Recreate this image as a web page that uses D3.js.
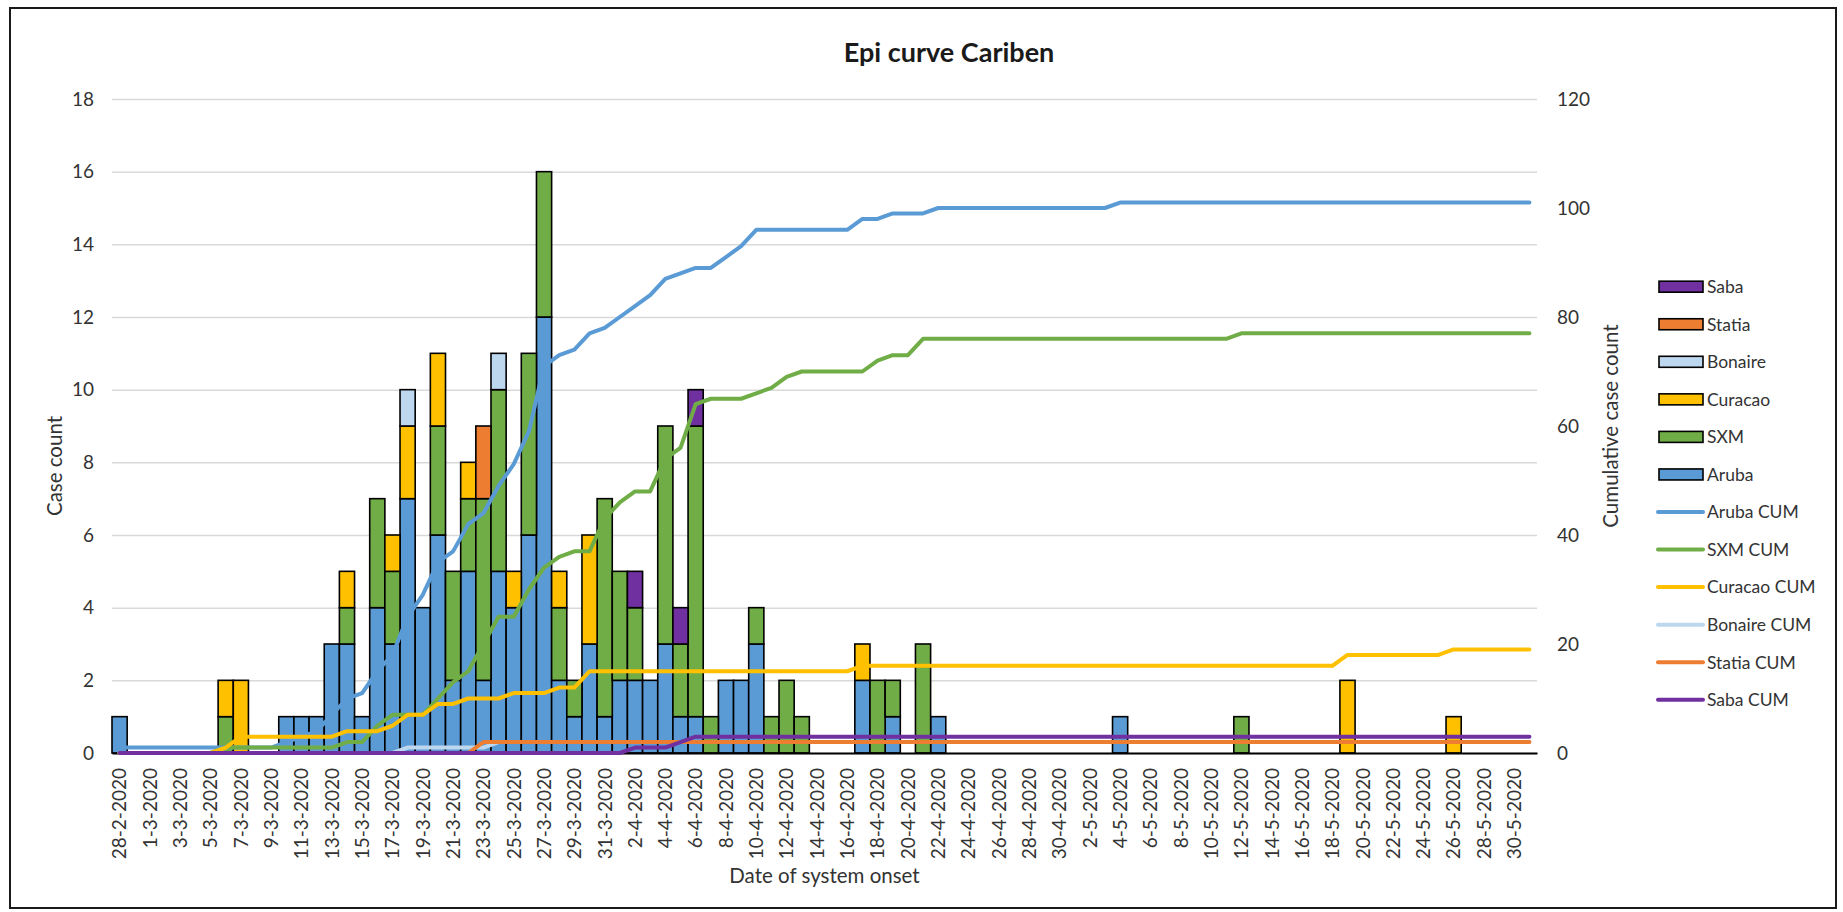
<!DOCTYPE html>
<html>
<head>
<meta charset="utf-8">
<script src="https://cdn.jsdelivr.net/npm/d3@7/dist/d3.min.js"></script>
<style>
  html, body { margin: 0; padding: 0; background: #fff; }
  svg { display: block; font-family: Lato, "Open Sans", sans-serif; }
</style>
</head>
<body>
<svg id="chart" width="1843" height="912"></svg>
<script>
// ---------------- DATA ----------------
const dates = [
  "28-2-2020","29-2-2020","1-3-2020","2-3-2020","3-3-2020","4-3-2020","5-3-2020","6-3-2020","7-3-2020","8-3-2020",
  "9-3-2020","10-3-2020","11-3-2020","12-3-2020","13-3-2020","14-3-2020","15-3-2020","16-3-2020","17-3-2020","18-3-2020",
  "19-3-2020","20-3-2020","21-3-2020","22-3-2020","23-3-2020","24-3-2020","25-3-2020","26-3-2020","27-3-2020","28-3-2020",
  "29-3-2020","30-3-2020","31-3-2020","1-4-2020","2-4-2020","3-4-2020","4-4-2020","5-4-2020","6-4-2020","7-4-2020",
  "8-4-2020","9-4-2020","10-4-2020","11-4-2020","12-4-2020","13-4-2020","14-4-2020","15-4-2020","16-4-2020","17-4-2020",
  "18-4-2020","19-4-2020","20-4-2020","21-4-2020","22-4-2020","23-4-2020","24-4-2020","25-4-2020","26-4-2020","27-4-2020",
  "28-4-2020","29-4-2020","30-4-2020","1-5-2020","2-5-2020","3-5-2020","4-5-2020","5-5-2020","6-5-2020","7-5-2020",
  "8-5-2020","9-5-2020","10-5-2020","11-5-2020","12-5-2020","13-5-2020","14-5-2020","15-5-2020","16-5-2020","17-5-2020",
  "18-5-2020","19-5-2020","20-5-2020","21-5-2020","22-5-2020","23-5-2020","24-5-2020","25-5-2020","26-5-2020","27-5-2020",
  "28-5-2020","29-5-2020","30-5-2020","31-5-2020"
];
const xTickLabels = dates.filter((d, i) => i % 2 === 0);

// daily case counts
const aruba = [
  1,0,0,0,0,0,0,0,0,0,
  0,1,1,1,3,3,1,4,3,7,
  4,6,2,5,2,5,4,6,12,2,
  1,3,1,2,2,2,3,1,1,0,
  2,2,3,0,0,0,0,0,0,2,
  0,1,0,0,1,0,0,0,0,0,
  0,0,0,0,0,0,1,0,0,0,
  0,0,0,0,0,0,0,0,0,0,
  0,0,0,0,0,0,0,0,0,0,
  0,0,0,0
];
const sxm = [
  0,0,0,0,0,0,0,1,0,0,
  0,0,0,0,0,1,0,3,2,0,
  0,3,3,2,5,5,0,5,4,2,
  1,0,6,3,2,0,6,2,8,1,
  0,0,1,1,2,1,0,0,0,0,
  2,1,0,3,0,0,0,0,0,0,
  0,0,0,0,0,0,0,0,0,0,
  0,0,0,0,1,0,0,0,0,0,
  0,0,0,0,0,0,0,0,0,0,
  0,0,0,0
];
const curacao = [
  0,0,0,0,0,0,0,1,2,0,
  0,0,0,0,0,1,0,0,1,2,
  0,2,0,1,0,0,1,0,0,1,
  0,3,0,0,0,0,0,0,0,0,
  0,0,0,0,0,0,0,0,0,1,
  0,0,0,0,0,0,0,0,0,0,
  0,0,0,0,0,0,0,0,0,0,
  0,0,0,0,0,0,0,0,0,0,
  0,2,0,0,0,0,0,0,1,0,
  0,0,0,0
];
const bonaire = [
  0,0,0,0,0,0,0,0,0,0,
  0,0,0,0,0,0,0,0,0,1,
  0,0,0,0,0,1,0,0,0,0,
  0,0,0,0,0,0,0,0,0,0,
  0,0,0,0,0,0,0,0,0,0,
  0,0,0,0,0,0,0,0,0,0,
  0,0,0,0,0,0,0,0,0,0,
  0,0,0,0,0,0,0,0,0,0,
  0,0,0,0,0,0,0,0,0,0,
  0,0,0,0
];
const statia = [
  0,0,0,0,0,0,0,0,0,0,
  0,0,0,0,0,0,0,0,0,0,
  0,0,0,0,2,0,0,0,0,0,
  0,0,0,0,0,0,0,0,0,0,
  0,0,0,0,0,0,0,0,0,0,
  0,0,0,0,0,0,0,0,0,0,
  0,0,0,0,0,0,0,0,0,0,
  0,0,0,0,0,0,0,0,0,0,
  0,0,0,0,0,0,0,0,0,0,
  0,0,0,0
];
const saba = [
  0,0,0,0,0,0,0,0,0,0,
  0,0,0,0,0,0,0,0,0,0,
  0,0,0,0,0,0,0,0,0,0,
  0,0,0,0,1,0,0,1,1,0,
  0,0,0,0,0,0,0,0,0,0,
  0,0,0,0,0,0,0,0,0,0,
  0,0,0,0,0,0,0,0,0,0,
  0,0,0,0,0,0,0,0,0,0,
  0,0,0,0,0,0,0,0,0,0,
  0,0,0,0
];

// cumulative counts
const arubaCum = [
  1,1,1,1,1,1,1,1,1,1,
  1,2,3,4,7,10,11,15,18,25,
  29,35,37,42,44,49,53,59,71,73,
  74,77,78,80,82,84,87,88,89,89,
  91,93,96,96,96,96,96,96,96,98,
  98,99,99,99,100,100,100,100,100,100,
  100,100,100,100,100,100,101,101,101,101,
  101,101,101,101,101,101,101,101,101,101,
  101,101,101,101,101,101,101,101,101,101,
  101,101,101,101
];
const sxmCum = [
  0,0,0,0,0,0,0,1,1,1,
  1,1,1,1,1,2,2,5,7,7,
  7,10,13,15,20,25,25,30,34,36,
  37,37,43,46,48,48,54,56,64,65,
  65,65,66,67,69,70,70,70,70,70,
  72,73,73,76,76,76,76,76,76,76,
  76,76,76,76,76,76,76,76,76,76,
  76,76,76,76,77,77,77,77,77,77,
  77,77,77,77,77,77,77,77,77,77,
  77,77,77,77
];
const curacaoCum = [
  0,0,0,0,0,0,0,1,3,3,
  3,3,3,3,3,4,4,4,5,7,
  7,9,9,10,10,10,11,11,11,12,
  12,15,15,15,15,15,15,15,15,15,
  15,15,15,15,15,15,15,15,15,16,
  16,16,16,16,16,16,16,16,16,16,
  16,16,16,16,16,16,16,16,16,16,
  16,16,16,16,16,16,16,16,16,16,
  16,18,18,18,18,18,18,18,19,19,
  19,19,19,19
];
const bonaireCum = [
  0,0,0,0,0,0,0,0,0,0,
  0,0,0,0,0,0,0,0,0,1,
  1,1,1,1,1,2,2,2,2,2,
  2,2,2,2,2,2,2,2,2,2,
  2,2,2,2,2,2,2,2,2,2,
  2,2,2,2,2,2,2,2,2,2,
  2,2,2,2,2,2,2,2,2,2,
  2,2,2,2,2,2,2,2,2,2,
  2,2,2,2,2,2,2,2,2,2,
  2,2,2,2
];
const statiaCum = [
  0,0,0,0,0,0,0,0,0,0,
  0,0,0,0,0,0,0,0,0,0,
  0,0,0,0,2,2,2,2,2,2,
  2,2,2,2,2,2,2,2,2,2,
  2,2,2,2,2,2,2,2,2,2,
  2,2,2,2,2,2,2,2,2,2,
  2,2,2,2,2,2,2,2,2,2,
  2,2,2,2,2,2,2,2,2,2,
  2,2,2,2,2,2,2,2,2,2,
  2,2,2,2
];
const sabaCum = [
  0,0,0,0,0,0,0,0,0,0,
  0,0,0,0,0,0,0,0,0,0,
  0,0,0,0,0,0,0,0,0,0,
  0,0,0,0,1,1,1,2,3,3,
  3,3,3,3,3,3,3,3,3,3,
  3,3,3,3,3,3,3,3,3,3,
  3,3,3,3,3,3,3,3,3,3,
  3,3,3,3,3,3,3,3,3,3,
  3,3,3,3,3,3,3,3,3,3,
  3,3,3,3
];

const leftTicks = [0, 2, 4, 6, 8, 10, 12, 14, 16, 18];
const rightTicks = [0, 20, 40, 60, 80, 100, 120];

const barSeries = [
  { key: "Aruba",   values: aruba,   color: "#5B9BD5" },
  { key: "SXM",     values: sxm,     color: "#70AD47" },
  { key: "Curacao", values: curacao, color: "#FFC000" },
  { key: "Bonaire", values: bonaire, color: "#BDD7EE" },
  { key: "Statia",  values: statia,  color: "#ED7D31" },
  { key: "Saba",    values: saba,    color: "#7030A0" }
];
const lineSeries = [
  { key: "Aruba CUM",   values: arubaCum,   color: "#5B9BD5" },
  { key: "SXM CUM",     values: sxmCum,     color: "#70AD47" },
  { key: "Curacao CUM", values: curacaoCum, color: "#FFC000" },
  { key: "Bonaire CUM", values: bonaireCum, color: "#BDD7EE" },
  { key: "Statia CUM",  values: statiaCum,  color: "#ED7D31" },
  { key: "Saba CUM",    values: sabaCum,    color: "#7030A0" }
];

// ---------------- LAYOUT ----------------
const svg = d3.select("#chart");
const W = 1843, H = 912;
const plot = { left: 112, right: 1537, top: 99, bottom: 753 };
const textColor = "#333333";
const fontSize = 19;
const legendSize = 17.5;
const axisTitleSize = 20.5;

svg.append("rect").attr("width", W).attr("height", H).attr("fill", "#fff");
svg.append("rect")
  .attr("x", 10).attr("y", 8).attr("width", 1826).attr("height", 900)
  .attr("fill", "none").attr("stroke", "#1a1a1a").attr("stroke-width", 2);

const x = d3.scaleBand().domain(dates).range([plot.left, plot.right]).padding(0);
const y = d3.scaleLinear().domain([0, 18]).range([plot.bottom, plot.top]);
const y2 = d3.scaleLinear().domain([0, 120]).range([plot.bottom, plot.top]);
const bw = x.bandwidth();

// gridlines
const grid = svg.append("g")
  .attr("transform", `translate(${plot.left},0)`)
  .call(d3.axisLeft(y).tickValues(leftTicks).tickSize(-(plot.right - plot.left)).tickFormat(""));
grid.select(".domain").remove();
grid.selectAll("line").attr("stroke", "#D9D9D9").attr("stroke-width", 1.5);

// left axis labels
const yAxis = svg.append("g")
  .attr("transform", `translate(${plot.left},0)`)
  .call(d3.axisLeft(y).tickValues(leftTicks).tickSize(0).tickPadding(18));
yAxis.select(".domain").remove();
yAxis.selectAll("text").attr("font-family", "Lato").attr("font-size", fontSize).attr("fill", textColor);

// right axis labels
const y2Axis = svg.append("g")
  .attr("transform", `translate(${plot.right},0)`)
  .call(d3.axisRight(y2).tickValues(rightTicks).tickSize(0).tickPadding(20));
y2Axis.select(".domain").remove();
y2Axis.selectAll("text").attr("font-family", "Lato").attr("font-size", fontSize).attr("fill", textColor);

// stacked bars
const table = dates.map((d, i) => {
  const row = { date: d };
  barSeries.forEach(s => { row[s.key] = s.values[i]; });
  return row;
});
const stack = d3.stack().keys(barSeries.map(s => s.key));
const stacked = stack(table);

const barsG = svg.append("g");
stacked.forEach((layer, li) => {
  barsG.append("g")
    .attr("fill", barSeries[li].color)
    .selectAll("rect")
    .data(layer.filter(d => d[1] - d[0] > 0))
    .join("rect")
    .attr("x", d => x(d.data.date))
    .attr("y", d => y(d[1]))
    .attr("width", bw)
    .attr("height", d => y(d[0]) - y(d[1]))
    .attr("stroke", "#000")
    .attr("stroke-width", 1.6);
});

// x axis
const xAxis = svg.append("g")
  .attr("transform", `translate(0,${plot.bottom})`)
  .call(d3.axisBottom(x).tickValues(xTickLabels).tickSize(0));
xAxis.select(".domain").attr("stroke", "#000").attr("stroke-width", 2);
xAxis.selectAll("text")
  .attr("font-family", "Lato").attr("font-size", fontSize).attr("fill", textColor)
  .attr("transform", "rotate(-90)")
  .attr("text-anchor", "end")
  .attr("x", -15).attr("y", 0).attr("dy", "0.36em");

// cumulative lines
const lineGen = d3.line()
  .x((d, i) => x(dates[i]) + bw / 2)
  .y(d => y2(d));
const linesG = svg.append("g");
lineSeries.forEach(s => {
  linesG.append("path")
    .datum(s.values)
    .attr("d", lineGen)
    .attr("fill", "none")
    .attr("stroke", s.color)
    .attr("stroke-width", 4)
    .attr("stroke-linejoin", "round")
    .attr("stroke-linecap", "round");
});

// titles
svg.append("text")
  .attr("x", 949).attr("y", 53).attr("dy", "0.35em")
  .attr("text-anchor", "middle")
  .attr("font-family", "Lato").attr("font-weight", "bold").attr("font-size", 27)
  .attr("fill", "#1a1a1a")
  .text("Epi curve Cariben");

svg.append("text")
  .attr("transform", `translate(55,466) rotate(-90)`)
  .attr("text-anchor", "middle").attr("dy", "0.35em")
  .attr("font-family", "Lato").attr("font-size", axisTitleSize).attr("fill", textColor)
  .text("Case count");

svg.append("text")
  .attr("transform", `translate(1611,426) rotate(-90)`)
  .attr("text-anchor", "middle").attr("dy", "0.35em")
  .attr("font-family", "Lato").attr("font-size", axisTitleSize).attr("fill", textColor)
  .text("Cumulative case count");

svg.append("text")
  .attr("x", (plot.left + plot.right) / 2).attr("y", 876).attr("dy", "0.35em")
  .attr("text-anchor", "middle")
  .attr("font-family", "Lato").attr("font-size", axisTitleSize).attr("fill", textColor)
  .text("Date of system onset");

// legend
const legendItems = barSeries.slice().reverse().map(s => ({ key: s.key, color: s.color, type: "bar" }))
  .concat(lineSeries.map(s => ({ key: s.key, color: s.color, type: "line" })));
const lg = svg.append("g");
legendItems.forEach((it, i) => {
  const cy = 286.7 + i * 37.55;
  if (it.type === "bar") {
    lg.append("rect")
      .attr("x", 1659).attr("y", cy - 5.5).attr("width", 44).attr("height", 11)
      .attr("fill", it.color).attr("stroke", "#000").attr("stroke-width", 1.6);
  } else {
    lg.append("line")
      .attr("x1", 1658).attr("x2", 1703).attr("y1", cy).attr("y2", cy)
      .attr("stroke", it.color).attr("stroke-width", 4).attr("stroke-linecap", "round");
  }
  lg.append("text")
    .attr("x", 1707).attr("y", cy).attr("dy", "0.36em")
    .attr("font-family", "Lato").attr("font-size", legendSize).attr("fill", textColor)
    .text(it.key);
});
</script>
</body>
</html>
